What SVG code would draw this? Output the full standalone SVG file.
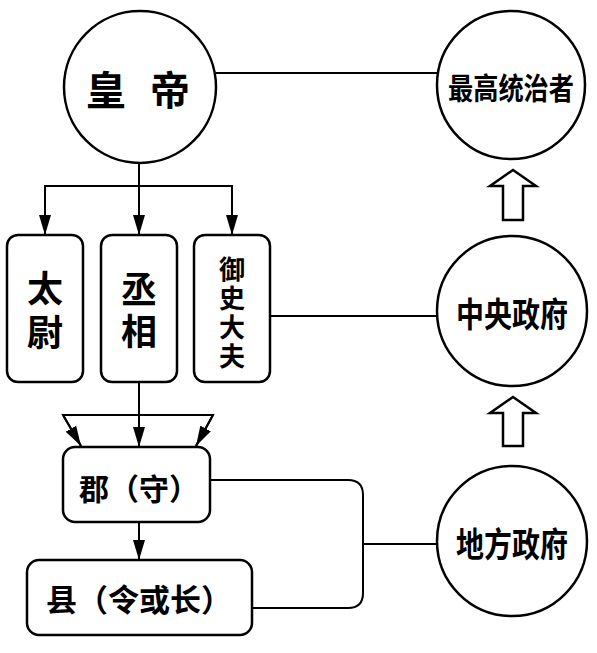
<svg xmlns="http://www.w3.org/2000/svg" width="597" height="653" viewBox="0 0 597 653">
<style>
.c{fill:#fff;stroke:#000;stroke-width:2.5}
.b{fill:#fff;stroke:#000;stroke-width:2.5}
.l{fill:none;stroke:#000;stroke-width:2}
.t{font-family:"Noto Sans CJK SC","Noto Sans CJK TC",sans-serif;font-weight:bold;fill:#000;text-anchor:middle;dominant-baseline:central}
.h{fill:#fff;stroke:#000;stroke-width:2.5;stroke-linejoin:miter}
</style>
<defs>
<marker id="a" markerWidth="20" markerHeight="12" refX="20" refY="6" orient="auto" markerUnits="userSpaceOnUse" viewBox="0 0 20 12">
<path d="M0,0 L20,6 L0,12 Z" fill="#000"/>
</marker>
</defs>
<g id="connectors">
<line class="l" x1="216" y1="73" x2="437" y2="73"/>
<line class="l" x1="139" y1="163" x2="139" y2="235" marker-end="url(#a)"/>
<polyline class="l" points="45,235 45,186 232,186 232,235" marker-end="url(#a)"/>
<path class="l" d="M45,200 L45,235" marker-end="url(#a)"/>
<line class="l" x1="270" y1="316" x2="438" y2="316"/>
<line class="l" x1="139" y1="382" x2="139" y2="447" marker-end="url(#a)"/>
<polyline class="l" points="81,446 63,415 213,415 196,446"/>
<path class="l" d="M63,415 L81,446" marker-end="url(#a)"/>
<path class="l" d="M213,415 L196,446" marker-end="url(#a)"/>
<line class="l" x1="139" y1="522" x2="139" y2="560" marker-end="url(#a)"/>
<path class="l" d="M210,480 H348 Q363,480 363,495 V593 Q363,608 348,608 H252"/>
<line class="l" x1="363" y1="544" x2="437" y2="544"/>
<polygon class="h" points="513,170 536,186 523,186 523,220 503,220 503,186 490,186"/>
<polygon class="h" points="513,397 536,413 523,413 523,446 503,446 503,413 490,413"/>
</g>
<g id="emperor">
<circle class="c" cx="140" cy="87" r="76"/>
<text class="t" x="106" y="88" font-size="40">皇</text>
<text class="t" x="170" y="88" font-size="40">帝</text>
</g>
<g id="supreme">
<circle class="c" cx="511" cy="85" r="74"/>
<text class="t" x="511" y="86" font-size="30" textLength="126" lengthAdjust="spacingAndGlyphs">最高统治者</text>
</g>
<g id="central">
<circle class="c" cx="512" cy="311" r="75"/>
<text class="t" x="512" y="312" font-size="34" textLength="112" lengthAdjust="spacingAndGlyphs">中央政府</text>
</g>
<g id="local">
<circle class="c" cx="512" cy="541" r="75"/>
<text class="t" x="512" y="542" font-size="34" textLength="112" lengthAdjust="spacingAndGlyphs">地方政府</text>
</g>
<g id="taiwei">
<rect class="b" x="7" y="235" width="76" height="147" rx="11"/>
<text class="t" x="45" y="286" font-size="36">太</text>
<text class="t" x="45" y="330" font-size="36">尉</text>
</g>
<g id="chengxiang">
<rect class="b" x="101" y="235" width="76" height="147" rx="11"/>
<text class="t" x="139" y="287" font-size="36">丞</text>
<text class="t" x="139" y="329" font-size="36">相</text>
</g>
<g id="yushidafu">
<rect class="b" x="194" y="235" width="76" height="147" rx="11"/>
<text class="t" x="232" y="267" font-size="26">御</text>
<text class="t" x="232" y="296" font-size="26">史</text>
<text class="t" x="232" y="325" font-size="26">大</text>
<text class="t" x="232" y="354" font-size="26">夫</text>
</g>
<g id="jun">
<rect class="b" x="63" y="447" width="147" height="75" rx="12"/>
<text class="t" x="139" y="487" font-size="30">郡（守）</text>
</g>
<g id="xian">
<rect class="b" x="27" y="560" width="225" height="75" rx="12"/>
<text class="t" x="139" y="597" font-size="31">县（令或长）</text>
</g>
</svg>
